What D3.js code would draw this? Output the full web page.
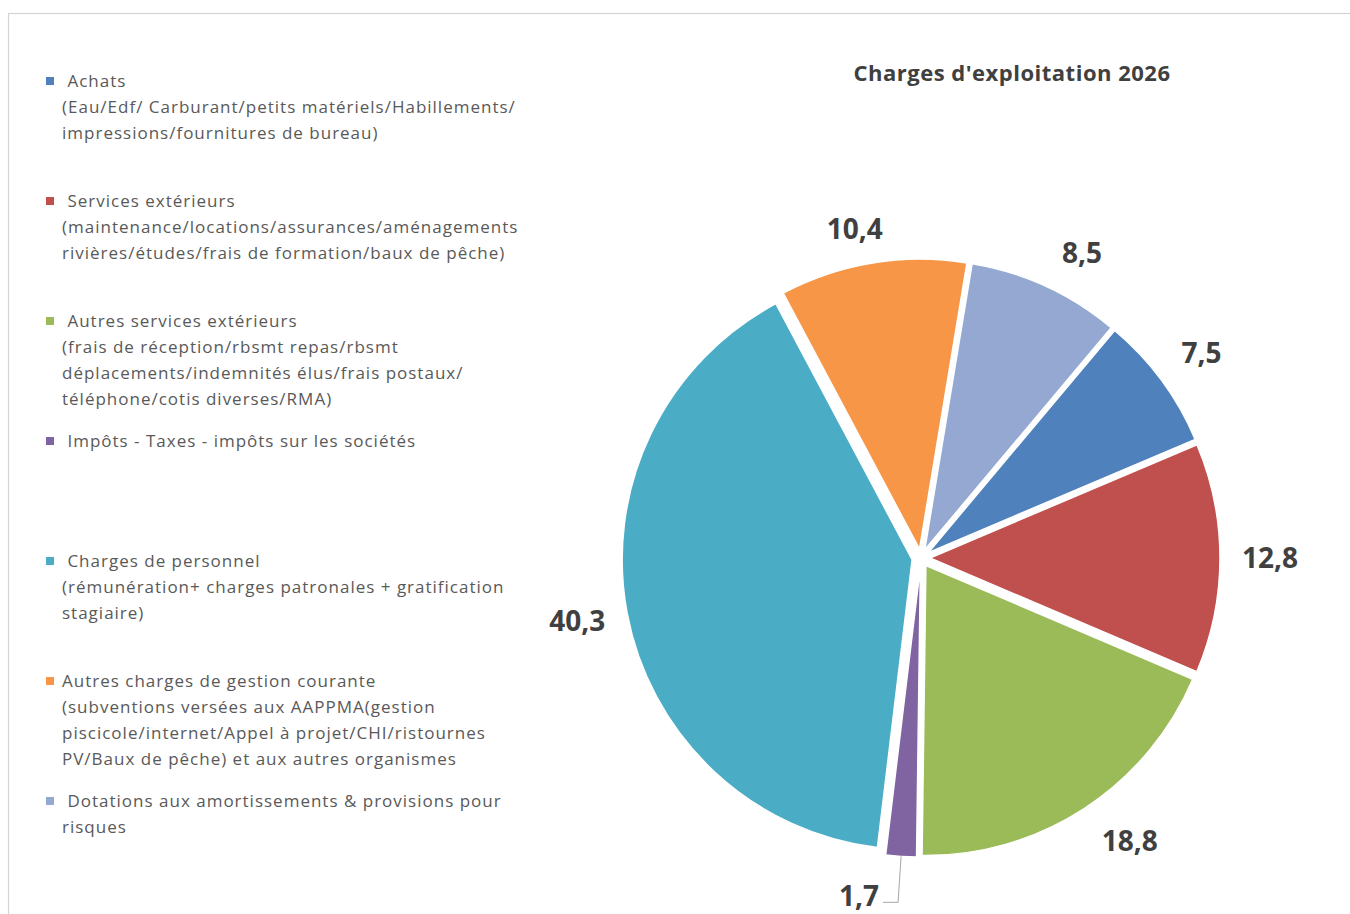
<!DOCTYPE html>
<html>
<head>
<meta charset="utf-8">
<script src="https://cdn.jsdelivr.net/npm/d3@7"></script>
<style>
  html, body { margin: 0; padding: 0; background: #fff; }
  svg { display: block; }
  text { white-space: pre; }
</style>
</head>
<body>
<svg id="chart" width="1350" height="914"></svg>
<script>
// ---------- data ----------
const title = "Charges d'exploitation 2026";
const categories = [
  "Achats",
  "Services extérieurs",
  "Autres services extérieurs",
  "Impôts - Taxes - impôts sur les sociétés",
  "Charges de personnel",
  "Autres charges de gestion courante",
  "Dotations aux amortissements & provisions pour risques"
];
const values = [7.5, 12.8, 18.8, 1.7, 40.3, 10.4, 8.5];
const legendLines = [
  [" Achats", "(Eau/Edf/ Carburant/petits matériels/Habillements/", "impressions/fournitures de bureau)"],
  [" Services extérieurs", "(maintenance/locations/assurances/aménagements", "rivières/études/frais de formation/baux de pêche)"],
  [" Autres services extérieurs", "(frais de réception/rbsmt repas/rbsmt", "déplacements/indemnités élus/frais postaux/", "téléphone/cotis diverses/RMA)"],
  [" Impôts - Taxes - impôts sur les sociétés"],
  [" Charges de personnel", "(rémunération+ charges patronales + gratification", "stagiaire)"],
  ["Autres charges de gestion courante", "(subventions versées aux AAPPMA(gestion", "piscicole/internet/Appel à projet/CHI/ristournes", "PV/Baux de pêche) et aux autres organismes"],
  [" Dotations aux amortissements & provisions pour", "risques"]
];
const colors = ["#4F81BD", "#C0504D", "#9BBB59", "#8064A2", "#4BACC6", "#F79646", "#95A8D2"];

// ---------- layout ----------
const svg = d3.select("#chart");
const W = 1350, H = 914;
const cx = 921, cy = 558, R = 290, explode = 9;
const startDeg = 40;

const frLocale = d3.formatLocale({decimal: ",", thousands: " ", grouping: [3], currency: ["", " €"]});
const fmt = frLocale.format(".1f");

// chart border
svg.append("rect")
  .attr("x", 8.5).attr("y", 13.5)
  .attr("width", W + 20).attr("height", H + 20)
  .attr("fill", "#fff")
  .attr("stroke", "#d4d4d4").attr("stroke-width", 1.2);

// title
svg.append("text")
  .attr("x", 1012).attr("y", 73)
  .attr("dy", "0.35em")
  .attr("text-anchor", "middle")
  .attr("font-family", "'Open Sans', sans-serif")
  .attr("font-weight", "bold")
  .attr("font-size", 22)
  .attr("letter-spacing", 0.5)
  .attr("fill", "#404040")
  .text(title);

// pie
const pie = d3.pie().sort(null).value(d => d)
  .startAngle(startDeg * Math.PI / 180)
  .endAngle(startDeg * Math.PI / 180 + 2 * Math.PI);
const arcs = pie(values);
const arc = d3.arc().innerRadius(0).outerRadius(R);

const g = svg.append("g").attr("transform", `translate(${cx},${cy})`);
const mid = d => (d.startAngle + d.endAngle) / 2;

g.selectAll("path.slice")
  .data(arcs)
  .join("path")
  .attr("class", "slice")
  .attr("d", arc)
  .attr("fill", (d, i) => colors[i])
  .attr("stroke", "#fff")
  .attr("stroke-width", 1.5)
  .attr("transform", d => {
    const a = mid(d);
    return `translate(${explode * Math.sin(a)},${-explode * Math.cos(a)})`;
  });

// data labels (outside end)
const labelFont = 28;
const gap = 10;
const labelDx = [0, 0, 0, -36, 0, 0, 0];
const labelDy = [0, 0, 0, 6, 0, 0, 0];
const clamp = v => Math.max(-1, Math.min(1, v));
const labels = g.selectAll("text.lbl")
  .data(arcs)
  .join("text")
  .attr("class", "lbl")
  .attr("text-anchor", "middle")
  .attr("dy", "0.35em")
  .attr("font-family", "'Open Sans', sans-serif")
  .attr("font-weight", "bold")
  .attr("font-size", labelFont)
  .attr("fill", "#404040")
  .text(d => fmt(d.value));

labels.each(function(d, i) {
  const bb = this.getBBox();
  const a = mid(d);
  const s = Math.sin(a), c = -Math.cos(a);
  const r0 = R + explode + gap;
  const x = r0 * s + (bb.width / 2 + 12) * clamp(2.5 * s) + labelDx[i];
  const y = r0 * c + 24 * clamp(1.5 * c) + labelDy[i];
  d3.select(this).attr("x", x).attr("y", y);
  d.lx = x; d.ly = y; d.lw = bb.width;
});

// leader line for displaced label
arcs.forEach((d, i) => {
  if (labelDx[i] !== 0) {
    const a = mid(d);
    const r0 = R + explode;
    const x0 = r0 * Math.sin(a), y0 = -r0 * Math.cos(a);
    const ly = d.ly + 6;
    const pts = [[x0, y0], [x0 - 3, ly], [d.lx + d.lw / 2 + 4, ly]];
    g.append("path")
      .attr("d", d3.line()(pts))
      .attr("fill", "none")
      .attr("stroke", "#a6a6a6")
      .attr("stroke-width", 1);
  }
});

// legend
const legendY = d3.scaleLinear().domain([0, 1]).range([81, 201]);
const lineH = 26;
const legend = svg.append("g");
legendLines.forEach((lines, i) => {
  const y0 = legendY(i);
  legend.append("rect")
    .attr("x", 46).attr("y", y0 - 4)
    .attr("width", 8).attr("height", 8)
    .attr("fill", colors[i]);
  lines.forEach((t, j) => {
    legend.append("text")
      .attr("x", 62).attr("y", y0 + j * lineH)
      .attr("dy", "0.35em")
      .attr("font-family", "'Open Sans', sans-serif")
      .attr("font-size", 17)
      .attr("letter-spacing", 1.0)
      .attr("fill", "#595959")
      .text(t);
  });
});
</script>
</body>
</html>
